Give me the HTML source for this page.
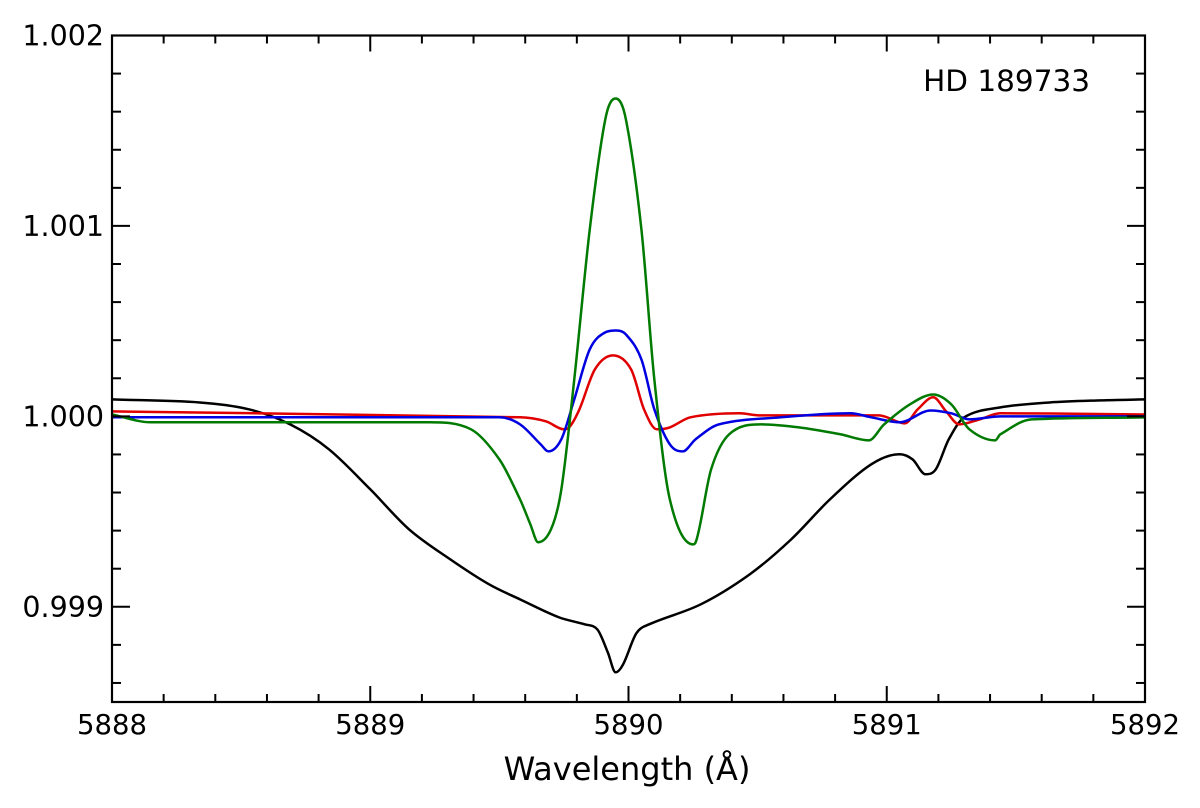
<!DOCTYPE html>
<html><head><meta charset="utf-8"><style>
html,body{margin:0;padding:0;background:#fff;}
svg{display:block;font-family:"DejaVu Sans","Liberation Sans",sans-serif;}
</style></head><body>
<svg id="chart" width="1200" height="808" viewBox="0 0 1200 808">
<g id="lines"></g>
<g id="axes"></g>
<text x="1090" y="91" text-anchor="end" font-size="29.5">HD 189733</text>
<text x="627" y="780" text-anchor="middle" font-size="32">Wavelength (Å)</text>
</svg>
<script>
const xTicks = [5888, 5889, 5890, 5891, 5892];
const yTicks = [0.999, 1.000, 1.001, 1.002];
const yTickLabels = ["0.999", "1.000", "1.001", "1.002"];

const blackWl = [5888.00,5888.34,5888.53,5888.69,5888.84,5889.00,5889.15,5889.31,5889.46,5889.58,5889.73,5889.83,5889.88,5889.92,5889.95,5889.98,5890.03,5890.08,5890.28,5890.47,5890.63,5890.78,5890.94,5891.05,5891.10,5891.15,5891.19,5891.24,5891.30,5891.44,5891.63,5891.83,5892.00];
const blackFlux = [1.000089,1.000073,1.000037,0.999958,0.999827,0.999617,0.999407,0.999249,0.999118,0.999039,0.998945,0.998908,0.998880,0.998760,0.998656,0.998700,0.998860,0.998908,0.999013,0.999171,0.999354,0.999564,0.999748,0.999801,0.999774,0.999696,0.999722,0.999879,0.999995,1.000047,1.000073,1.000084,1.000089];

const greenWl = [5888.00,5888.15,5889.23,5889.39,5889.50,5889.58,5889.62,5889.65,5889.70,5889.74,5889.79,5889.85,5889.91,5889.95,5889.99,5890.05,5890.10,5890.16,5890.25,5890.26,5890.32,5890.39,5890.51,5890.66,5890.82,5890.93,5890.99,5891.09,5891.18,5891.25,5891.32,5891.42,5891.44,5891.56,5892.00];
const greenFlux = [1.000010,0.999969,0.999969,0.999932,0.999774,0.999564,0.999433,0.999339,0.999407,0.999617,1.000194,1.000982,1.001559,1.001669,1.001559,1.000982,1.000194,0.999564,0.999328,0.999339,0.999722,0.999906,0.999958,0.999942,0.999906,0.999874,0.999958,1.000063,1.000115,1.000063,0.999932,0.999874,0.999906,0.999984,0.999995];

const blueWl = [5888.00,5889.50,5889.58,5889.66,5889.69,5889.74,5889.79,5889.85,5889.91,5889.95,5889.99,5890.05,5890.10,5890.16,5890.21,5890.26,5890.35,5890.59,5890.86,5890.94,5891.05,5891.17,5891.25,5891.32,5891.44,5892.00];
const blueFlux = [0.999995,0.999995,0.999958,0.999853,0.999816,0.999880,1.000089,1.000352,1.000441,1.000451,1.000430,1.000299,1.000037,0.999853,0.999816,0.999880,0.999958,0.999995,1.000016,0.999995,0.999969,1.000031,1.000016,0.999984,1.000000,1.000000];

const redWl = [5888.00,5889.58,5889.68,5889.75,5889.77,5889.81,5889.87,5889.94,5890.01,5890.06,5890.11,5890.16,5890.24,5890.43,5890.51,5890.78,5890.97,5891.07,5891.12,5891.18,5891.23,5891.28,5891.36,5891.44,5892.00];
const redFlux = [1.000026,0.999995,0.999974,0.999932,0.999942,1.000037,1.000247,1.000320,1.000247,1.000037,0.999932,0.999942,0.999995,1.000016,1.000005,1.000005,1.000005,0.999963,1.000037,1.000100,1.000026,0.999958,0.999984,1.000016,1.000010];

const L = 112, R = 1145, T = 35.5, B = 702;
const xMin = 5888, xMax = 5892, yMin = 0.9985, yMax = 1.002;
const NS = "http://www.w3.org/2000/svg";
function xs(v){ return L + (v - xMin) / (xMax - xMin) * (R - L); }
function ys(v){ return B - (v - yMin) / (yMax - yMin) * (B - T); }

function smoothPath(px, py){
  let d = "M" + px[0].toFixed(2) + "," + py[0].toFixed(2);
  const n = px.length;
  const m = [];
  const sl = [];
  for (let i = 0; i < n - 1; i++){ sl.push((py[i+1]-py[i])/(px[i+1]-px[i])); }
  m[0] = sl[0]; m[n-1] = sl[n-2];
  for (let i = 1; i < n - 1; i++){
    if (sl[i-1]*sl[i] <= 0) m[i] = 0;
    else {
      let c = (py[i+1]-py[i-1])/(px[i+1]-px[i-1]);
      const lim = 3*Math.min(Math.abs(sl[i-1]), Math.abs(sl[i]));
      if (Math.abs(c) > lim) c = Math.sign(c)*lim;
      m[i] = c;
    }
  }
  for (let i = 0; i < n - 1; i++){
    const h = px[i+1]-px[i];
    const c1x = px[i] + h/3, c1y = py[i] + m[i]*h/3;
    const c2x = px[i+1] - h/3, c2y = py[i+1] - m[i+1]*h/3;
    d += " C" + c1x.toFixed(2) + "," + c1y.toFixed(2) + " " + c2x.toFixed(2) + "," + c2y.toFixed(2) + " " + px[i+1].toFixed(2) + "," + py[i+1].toFixed(2);
  }
  return d;
}

const linesG = document.getElementById("lines");
function addSeries(wl, fl, color, name){
  const p = document.createElementNS(NS, "path");
  p.setAttribute("d", smoothPath(wl.map(xs), fl.map(ys)));
  p.setAttribute("fill", "none");
  p.setAttribute("stroke", color);
  p.setAttribute("stroke-width", "2.5");
  p.setAttribute("stroke-linejoin", "round");
  
  
  linesG.appendChild(p);
}
addSeries(blackWl, blackFlux, "#000", "series-black");
addSeries(redWl, redFlux, "#e00000", "series-red");
addSeries(blueWl, blueFlux, "#0000e0", "series-blue");
addSeries(greenWl, greenFlux, "#007a00", "series-green");

const axesG = document.getElementById("axes");
function line(x1,y1,x2,y2,w){
  const l = document.createElementNS(NS, "line");
  l.setAttribute("x1",x1); l.setAttribute("y1",y1); l.setAttribute("x2",x2); l.setAttribute("y2",y2);
  l.setAttribute("stroke","#000"); l.setAttribute("stroke-width", w || 2);
  
  
  axesG.appendChild(l);
}
const frame = document.createElementNS(NS, "rect");
frame.setAttribute("x", L); frame.setAttribute("y", T); frame.setAttribute("width", R-L); frame.setAttribute("height", B-T);
frame.setAttribute("fill","none"); frame.setAttribute("stroke","#000"); frame.setAttribute("stroke-width","2.2");


axesG.appendChild(frame);

for (let v = xMin; v <= xMax + 1e-9; v += 0.2){
  const x = xs(v);
  const major = Math.abs(v - Math.round(v)) < 1e-6;
  const len = major ? 16 : 8;
  line(x, B, x, B - len); line(x, T, x, T + len);
}
for (let k = 0; ; k++){
  const v = 0.9986 + k*0.0002;
  if (v > yMax + 1e-9) break;
  const y = ys(v);
  const major = Math.abs(v*1000 - Math.round(v*1000)) < 1e-6;
  const len = major ? 18 : 9;
  line(L, y, L + len, y); line(R, y, R - len, y);
}
xTicks.forEach(function(v){
  const t = document.createElementNS(NS, "text");
  t.setAttribute("x", xs(v)); t.setAttribute("y", 734);
  t.setAttribute("text-anchor","middle"); t.setAttribute("font-size","27.5");
  t.textContent = String(v);
  
  
  axesG.appendChild(t);
});
yTicks.forEach(function(v, i){
  const t = document.createElementNS(NS, "text");
  t.setAttribute("x", 104); t.setAttribute("y", ys(v) + 10);
  t.setAttribute("text-anchor","end"); t.setAttribute("font-size","28.5");
  t.textContent = yTickLabels[i];
  
  
  axesG.appendChild(t);
});
</script>
</body></html>
